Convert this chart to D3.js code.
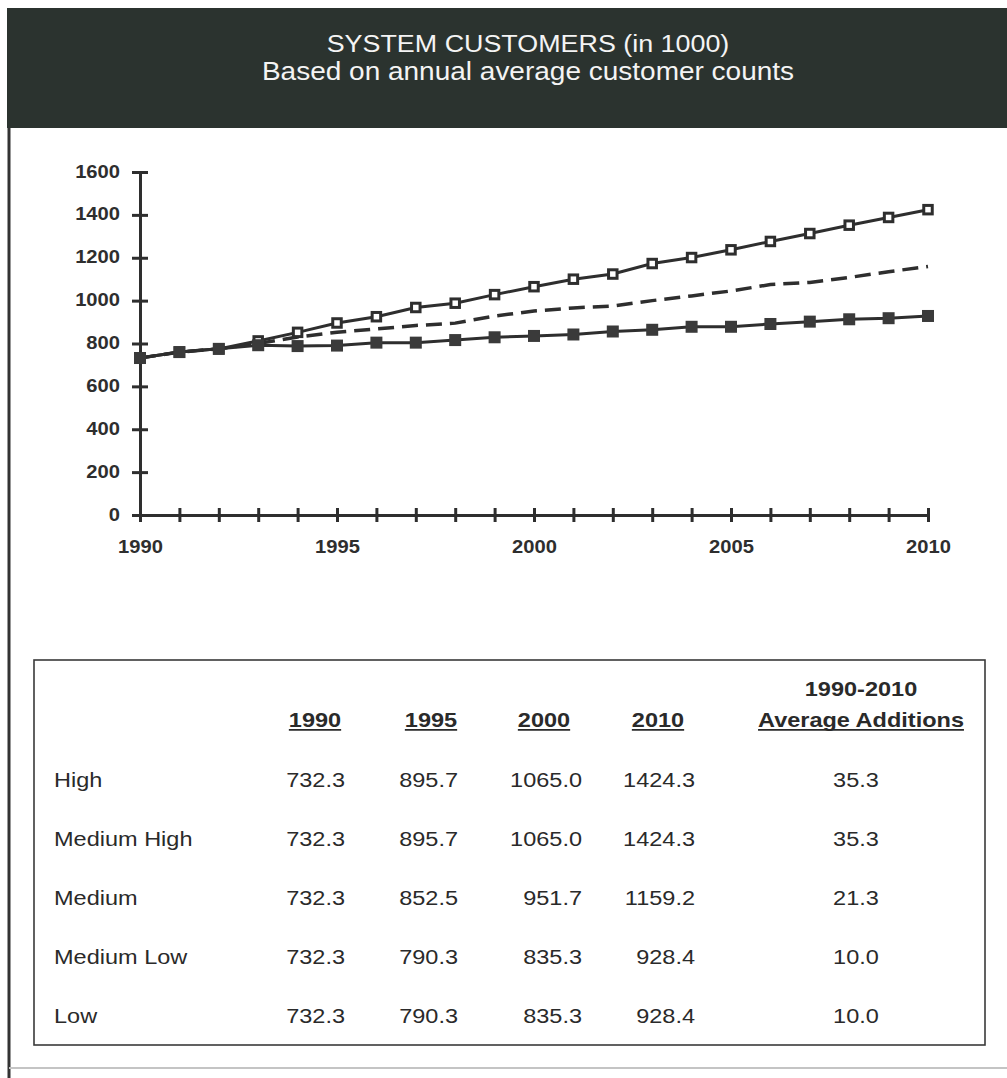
<!DOCTYPE html>
<html>
<head>
<meta charset="utf-8">
<script src="https://cdn.jsdelivr.net/npm/d3@7"></script>
<style>
  html, body { margin: 0; padding: 0; background: #fff; }
  svg { display: block; }
  text { font-family: "Liberation Sans", Arial, Helvetica, sans-serif; fill: #2a2a2a; }
</style>
</head>
<body>
<svg id="chart" width="1007" height="1078"></svg>
<script>
// ---- data -------------------------------------------------------------
const years = [1990, 1991, 1992, 1993, 1994, 1995, 1996, 1997, 1998, 1999, 2000,
               2001, 2002, 2003, 2004, 2005, 2006, 2007, 2008, 2009, 2010];

// System customers (thousands), annual average
const highSeries   = [732.3, 760, 775, 812, 852, 895.7, 925, 968, 988, 1028, 1065.0,
                      1100, 1124, 1173, 1201, 1237, 1276, 1313, 1352, 1388, 1424.3];
const mediumSeries = [732.3, 760, 775, 800, 830, 852.5, 868, 884, 895, 928, 951.7,
                      966, 975, 1000, 1022, 1045, 1075, 1085, 1108, 1135, 1159.2];
const lowSeries    = [732.3, 760, 775, 792, 788, 790.3, 804, 804, 816, 829, 835.3,
                      842, 856, 864, 878, 878, 891, 902, 913, 918, 928.4];

const yTickValues = [0, 200, 400, 600, 800, 1000, 1200, 1400, 1600];
const xLabelYears = [1990, 1995, 2000, 2005, 2010];

// Summary table
const tableYears    = ["1990", "1995", "2000", "2010"];
const scenarioNames = ["High", "Medium High", "Medium", "Medium Low", "Low"];
const tableValues = [
  ["732.3", "895.7", "1065.0", "1424.3"],
  ["732.3", "895.7", "1065.0", "1424.3"],
  ["732.3", "852.5", "951.7",  "1159.2"],
  ["732.3", "790.3", "835.3",  "928.4"],
  ["732.3", "790.3", "835.3",  "928.4"]
];
const avgAdditions = ["35.3", "35.3", "21.3", "10.0", "10.0"];

const titleLines = ["SYSTEM CUSTOMERS (in 1000)", "Based on annual average customer counts"];

// ---- layout -----------------------------------------------------------
const ink = "#2e2e2e";
const sx = 1.12;               // slightly wide lettering
const svg = d3.select("#chart");

// page frame
svg.append("line").attr("x1", 9).attr("x2", 9).attr("y1", 8).attr("y2", 1078)
  .attr("stroke", "#333").attr("stroke-width", 3);
svg.append("line").attr("x1", 9).attr("x2", 1007).attr("y1", 1068).attr("y2", 1068)
  .attr("stroke", "#c4c4c4").attr("stroke-width", 2);

// title band
svg.append("rect").attr("x", 7).attr("y", 8).attr("width", 1000).attr("height", 120)
  .attr("fill", "#2b332f");
const titleSizes = [24, 25];
const titleY = [44, 72];
titleLines.forEach((t, i) => {
  svg.append("text")
    .attr("transform", `translate(528,${titleY[i]}) scale(${sx},1)`)
    .attr("text-anchor", "middle").attr("dominant-baseline", "central")
    .style("font-size", titleSizes[i] + "px").style("fill", "#f4f4f4")
    .text(t);
});

// ---- line chart -------------------------------------------------------
const x = d3.scaleLinear().domain([1990, 2010]).range([140, 928]);
const y = d3.scaleLinear().domain([0, 1600]).range([515, 172]);

const yAxis = d3.axisLeft(y).tickValues(yTickValues).tickSizeOuter(0).tickSize(0)
  .tickFormat(d3.format("d"));
const gy = svg.append("g").attr("transform", "translate(140,0)").call(yAxis);
gy.select(".domain").attr("stroke", ink).attr("stroke-width", 3);
gy.selectAll(".tick line").attr("x1", -8).attr("x2", 8).attr("stroke", ink).attr("stroke-width", 3);
gy.selectAll(".tick text")
  .attr("x", null).attr("dy", null)
  .attr("transform", `translate(-20,-1) scale(${sx},1)`)
  .attr("dominant-baseline", "central")
  .style("font-size", "18px").style("font-weight", "bold").style("fill", ink)
  .style("font-family", "'Liberation Sans', Arial, sans-serif");

const xAxis = d3.axisBottom(x).tickValues(years).tickSizeOuter(0).tickSize(0)
  .tickFormat(d => xLabelYears.includes(d) ? String(d) : "");
const gx = svg.append("g").attr("transform", "translate(0,515)").call(xAxis);
gx.select(".domain").attr("stroke", ink).attr("stroke-width", 3);
gx.selectAll(".tick line").attr("y1", -7).attr("y2", 7).attr("stroke", ink).attr("stroke-width", 3);
gx.selectAll(".tick text")
  .attr("y", null).attr("dy", null)
  .attr("transform", `translate(0,32) scale(${sx},1)`)
  .attr("dominant-baseline", "central")
  .style("font-size", "18px").style("font-weight", "bold").style("fill", ink)
  .style("font-family", "'Liberation Sans', Arial, sans-serif");

const line = d3.line().x((d, i) => x(years[i])).y(d => y(d));

// medium scenario: dashed line, no markers
svg.append("path").datum(mediumSeries).attr("d", line)
  .attr("fill", "none").attr("stroke", ink).attr("stroke-width", 3.5)
  .attr("stroke-dasharray", "16,8");

// high scenario: open squares
svg.append("path").datum(highSeries).attr("d", line)
  .attr("fill", "none").attr("stroke", ink).attr("stroke-width", 3);
// low scenario: filled squares
svg.append("path").datum(lowSeries).attr("d", line)
  .attr("fill", "none").attr("stroke", ink).attr("stroke-width", 3);

const m = 8.5;
svg.append("g").selectAll("rect").data(highSeries).join("rect")
  .attr("x", (d, i) => x(years[i]) - m / 2).attr("y", d => y(d) - m / 2)
  .attr("width", m).attr("height", m)
  .attr("fill", "#fff").attr("stroke", ink).attr("stroke-width", 3);
const mf = 12;
svg.append("g").selectAll("rect").data(lowSeries).join("rect")
  .attr("x", (d, i) => x(years[i]) - mf / 2).attr("y", d => y(d) - mf / 2)
  .attr("width", mf).attr("height", mf)
  .attr("fill", "#3a3a3a");

// ---- summary table ----------------------------------------------------
svg.append("rect").attr("x", 34).attr("y", 660).attr("width", 951).attr("height", 385)
  .attr("fill", "none").attr("stroke", "#3a3a3a").attr("stroke-width", 1.6);

const colCenters = [315, 431, 544, 658];
const colRights  = [345, 458, 582, 695];
const avgCenter  = 856;
const headerY = 720;
const rowY = d3.scaleLinear().domain([0, 4]).range([780, 1016]);

function txt(xp, yp, s, anchor, size, bold, underline) {
  const g = svg.append("g").attr("transform", `translate(${xp},${yp}) scale(${sx},1)`);
  const t = g.append("text")
    .attr("text-anchor", anchor).attr("dominant-baseline", "central")
    .style("font-size", size + "px")
    .text(s);
  if (bold) t.style("font-weight", "bold");
  if (underline) {
    const bb = t.node().getBBox();
    g.append("line")
      .attr("x1", bb.x).attr("x2", bb.x + bb.width)
      .attr("y1", size * 0.47).attr("y2", size * 0.47)
      .attr("stroke", "#2a2a2a").attr("stroke-width", 1.8);
  }
  return t;
}

tableYears.forEach((yr, j) => txt(colCenters[j], headerY, yr, "middle", 21, true, true));
txt(avgCenter + 5, 689, "1990-2010", "middle", 21, true, false);
txt(avgCenter + 5, headerY, "Average Additions", "middle", 21, true, true);

scenarioNames.forEach((name, i) => {
  const yy = rowY(i);
  txt(54, yy, name, "start", 21, false, false);
  tableValues[i].forEach((v, j) => txt(colRights[j], yy, v, "end", 21, false, false));
  txt(avgCenter, yy, avgAdditions[i], "middle", 21, false, false);
});
</script>
</body>
</html>
